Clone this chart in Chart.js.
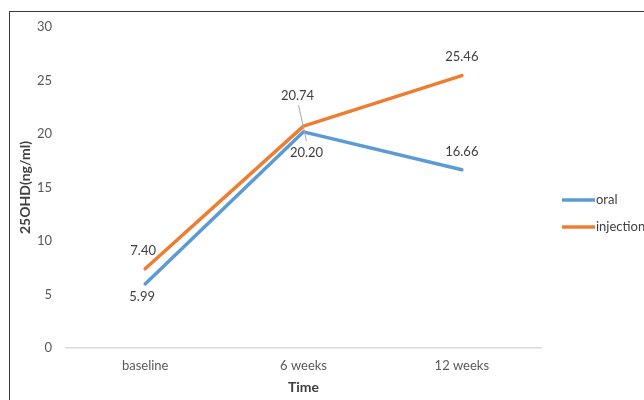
<!DOCTYPE html>
<html>
<head>
<meta charset="utf-8">
<script src="https://cdn.jsdelivr.net/npm/chart.js@4/dist/chart.umd.min.js"></script>
<style>
  html, body { margin: 0; padding: 0; background: #fff; overflow: hidden; }
  #wrap { position: relative; width: 644px; height: 400px; }
  #frame { position: absolute; left: 9px; top: 11px; width: 700px; height: 500px;
           border-left: 1.5px solid #3a3a3a; border-top: 1.5px solid #3a3a3a; }
  canvas { position: absolute; left: 0; top: 0; }
</style>
</head>
<body>
<div id="wrap">
  <div id="frame"></div>
  <canvas id="chart" width="644" height="400"></canvas>
</div>
<script>
// data
const categories = ["baseline", "6 weeks", "12 weeks"];
const seriesNames = ["oral", "injection"];
const oralValues = [5.99, 20.20, 16.66];
const injectionValues = [7.40, 20.74, 25.46];
const yTicks = [0, 5, 10, 15, 20, 25, 30];

const colors = ["#5B9BD5", "#ED7D31"];
const FONT = "Lato, 'Liberation Sans', sans-serif";

// where each value label sits relative to its point [dx, dy]
const labelOffsets = [
  [[-3, 13], [3, 21], [0, -18]],     // oral
  [[-2, -18], [-6, -30], [0, -19]]   // injection
];

// labels, leader line and the legend on the right
const labelPlugin = {
  id: "labels",
  afterDatasetsDraw(chart) {
    const ctx = chart.ctx;
    ctx.save();
    ctx.font = "13px " + FONT;
    ctx.fillStyle = "#404040";
    ctx.textAlign = "center";
    ctx.textBaseline = "middle";
    chart.data.datasets.forEach((ds, i) => {
      const meta = chart.getDatasetMeta(i);
      meta.data.forEach((pt, j) => {
        const off = labelOffsets[i][j];
        ctx.fillText(ds.data[j].toFixed(2), pt.x + off[0], pt.y + off[1]);
      });
    });

    // leader line for 20.74
    const p = chart.getDatasetMeta(1).data[1];
    ctx.strokeStyle = "#a6a6a6";
    ctx.lineWidth = 1;
    ctx.beginPath();
    ctx.moveTo(p.x - 5, p.y - 21);
    ctx.lineTo(p.x + 3, p.y + 15);
    ctx.stroke();

    // legend
    seriesNames.forEach((name, i) => {
      const y = 200 + i * 27;
      ctx.strokeStyle = colors[i];
      ctx.lineWidth = 3.5;
      ctx.beginPath();
      ctx.moveTo(562, y);
      ctx.lineTo(595, y);
      ctx.stroke();
      ctx.textAlign = "left";
      ctx.fillStyle = "#404040";
      ctx.fillText(name, 596, y);
    });
    ctx.restore();
  }
};

new Chart(document.getElementById("chart"), {
  type: "line",
  data: {
    labels: categories,
    datasets: [
      { label: seriesNames[0], data: oralValues, borderColor: colors[0], backgroundColor: colors[0] },
      { label: seriesNames[1], data: injectionValues, borderColor: colors[1], backgroundColor: colors[1] }
    ]
  },
  options: {
    responsive: false,
    animation: false,
    devicePixelRatio: 1,
    layout: { padding: { left: 13, top: 27, right: 103, bottom: 0 } },
    elements: {
      line: { borderWidth: 3.5, tension: 0, borderCapStyle: "round", borderJoinStyle: "round" },
      point: { radius: 0, hoverRadius: 0 }
    },
    plugins: {
      legend: { display: false },
      tooltip: { enabled: false }
    },
    scales: {
      x: {
        offset: true,
        grid: { display: false, drawTicks: false },
        border: { display: true, color: "#d9d9d9", width: 1.5 },
        ticks: { color: "#595959", font: { family: FONT, size: 13 }, padding: 10 },
        title: { display: true, text: "Time", color: "#404040",
                 font: { family: FONT, size: 14, weight: "bold" } },
        afterFit(scale) { scale.height = 52; }
      },
      y: {
        min: 0,
        max: 30,
        afterBuildTicks(scale) { scale.ticks = yTicks.map(v => ({ value: v })); },
        grid: { display: false, drawTicks: false },
        border: { display: false },
        ticks: { color: "#595959", font: { family: FONT, size: 13 }, padding: 14 },
        title: { display: true, text: "25OHD(ng/ml)", color: "#404040",
                 font: { family: FONT, size: 14, weight: "bold" } },
        afterFit(scale) { scale.width = 53; }
      }
    }
  },
  plugins: [labelPlugin]
});
</script>
</body>
</html>
